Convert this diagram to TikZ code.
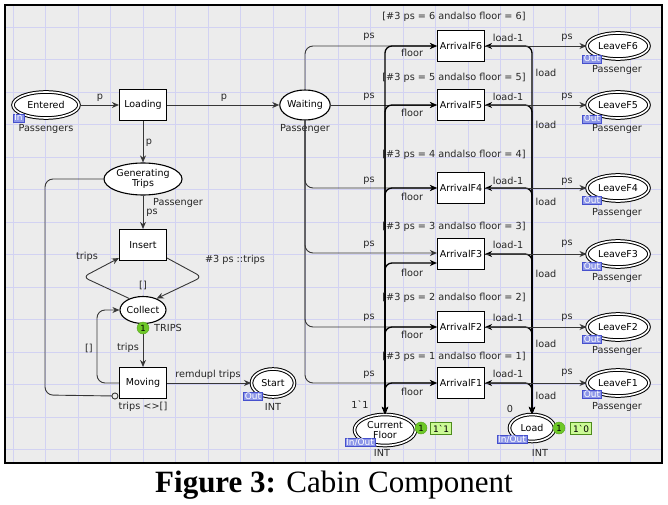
\documentclass[tikz,border=0pt]{standalone}
\usepackage{fontspec}
\newfontfamily\cpn{DejaVu Sans}
\newfontfamily\capfont{Liberation Serif}
\usetikzlibrary{arrows.meta,shapes.geometric,calc}
\definecolor{bgc}{RGB}{236,236,236}
\definecolor{gridc}{RGB}{210,210,242}
\definecolor{tagfill}{RGB}{140,150,232}
\definecolor{tagdraw}{RGB}{70,80,205}
\definecolor{tokc}{RGB}{110,200,40}
\definecolor{tokbox}{RGB}{204,250,150}
\definecolor{arcc}{RGB}{55,55,55}
\begin{document}
\begin{tikzpicture}[x=1pt,y=-1pt,
 lab/.style={font=\cpn\fontsize{9.7}{11}\selectfont, inner sep=0pt, text=black!85},
 trans/.style={draw, fill=white, line width=1.1pt, minimum width=47pt, minimum height=31pt, inner sep=0pt, font=\cpn\fontsize{9.5}{11}\selectfont},
 place/.style={draw, ellipse, fill=white, line width=1.1pt, inner sep=0pt, align=center, font=\cpn\fontsize{9.5}{10.5}\selectfont},
 port/.style={place, double, double distance=1.6pt, line width=1pt},
 tag/.style={draw=tagdraw, fill=tagfill, text=white, font=\cpn\fontsize{9}{9}\selectfont, inner xsep=1.2pt, inner ysep=0.3pt, text height=6.8pt, text depth=0.8pt, line width=0.6pt},
 tok/.style={circle, fill=tokc, draw=tokc!80!black, line width=0.4pt, inner sep=0pt, minimum size=12pt, font=\cpn\fontsize{8.5}{8.5}\selectfont},
 tokb/.style={draw=tokc!70!black, fill=tokbox, inner xsep=2.5pt, inner ysep=1pt, minimum height=12pt, font=\cpn\fontsize{9}{9}\selectfont},
 arc/.style={draw=arcc, line width=0.9pt, -{Stealth[length=7pt,width=6pt,inset=2.2pt]}},
 biarc/.style={draw=black, line width=1.3pt, {Stealth[length=7pt,width=6pt,inset=2.2pt]}-{Stealth[length=7pt,width=6pt,inset=2.2pt]}, rounded corners=7pt},
]
\useasboundingbox (0,0) rectangle (668,505);
\fill[white] (0,0) rectangle (668,505);
\fill[bgc] (5,5) rectangle (662,463);
\foreach \x in {13,45.5,...,660} \draw[gridc, line width=0.6pt] (\x,6) -- (\x,462);
\foreach \y in {27,59.5,...,460} \draw[gridc, line width=0.6pt] (6,\y) -- (661,\y);
\draw[line width=2.5pt] (5,5) rectangle (662,463);

% places and transitions
\node[port, minimum width=66pt, minimum height=26pt] (entered) at (46,105) {Entered};
\node[trans] (loading) at (143,105) {Loading};
\node[place, minimum width=46pt, minimum height=30pt] (waiting) at (305,105) {Waiting};
\node[place, minimum width=78pt, minimum height=32pt] (gen) at (143,179) {Generating\\Trips};
\node[trans] (insert) at (143,245) {Insert};
\node[place, minimum width=46pt, minimum height=27pt] (collect) at (143,310) {Collect};
\node[trans] (moving) at (143,383) {Moving};
\node[port, minimum width=43pt, minimum height=28pt] (start) at (273,383) {Start};
\node[port, minimum width=61pt, minimum height=31pt] (cf) at (385,430) {Current\\Floor};
\node[port, minimum width=45pt, minimum height=27pt] (load) at (532,428) {Load};
\foreach \k/\y in {6/46,5/105,4/188,3/254,2/327,1/383} {
  \node[trans] (arr\k) at (461,\y) {ArrivalF\k};
  \node[port, minimum width=62pt, minimum height=26pt] (leave\k) at (618,\y) {LeaveF\k};
}

% left arcs
\draw[arc] (entered) -- (loading);
\draw[arc] (loading) -- (waiting);
\draw[arc] (loading) -- (gen);
\draw[arc] (gen) -- (insert);
\draw[arc, rounded corners=6pt] ($(insert.south east)+(0,-3)$) -- (202,277) -- (collect.40);
\draw[arc, rounded corners=6pt] (collect.140) -- (83,277) -- ($(insert.south west)+(0,-3)$);
\draw[arc] (collect) -- (moving);
\draw[arc, rounded corners=8pt] (moving.west) -- (97,383) -- (97,310) -- (collect.west);
\draw[draw=arcc, line width=0.9pt, -{Circle[open,length=7pt,width=7pt]}, rounded corners=8pt] (gen.west) -- (45,179) -- (45,395) -- ($(moving.south west)+(-0.5,-3)$);
\draw[arc] (moving) -- (start);

% waiting to arrivals
\draw[arc, rounded corners=8pt] (waiting.north) |- (arr6.west);
\draw[arc] (waiting.east) -- (arr5.west);
\foreach \k in {4,2,1} \draw[arc, rounded corners=8pt] (waiting.south) |- (arr\k.west);
\draw[arc, rounded corners=8pt] (waiting.south) |- ($(arr3.west)+(0,-1)$);

% floor and load arcs
\foreach \k in {6,5,4,2,1} \draw[biarc] (cf.north) |- (arr\k.west);
\draw[biarc] (cf.north) |- ($(arr3.west)+(0,9)$);
\foreach \k in {6,5,4,3,2,1} {
  \draw[biarc] (load.north) |- (arr\k.east);
  \draw[arc] (arr\k) -- (leave\k);
}

% labels left
\node[lab] (lp1) at (100,98) {p};
\node[lab] (lpass1) at (46,129) {Passengers};
\node[tag] (tin) at (18.5,118) {In};
\node[lab] (lp2) at (224,98) {p};
\node[lab] (lpass2) at (305,129) {Passenger};
\node[lab] (lp3) at (149,143) {p};
\node[lab, anchor=west] (lpass3) at (153,203) {Passenger};
\node[lab] (lps0) at (152,213) {ps};
\node[lab] (ltrips1) at (87,257) {trips};
\node[lab] (lcons) at (235,260) {\#3 ps ::trips};
\node[lab] (lnil1) at (143,285) {[]};
\node[tok] (tok1) at (143,328) {1};
\node[lab] (ltrips) at (168,328) {TRIPS};
\node[lab] (ltrips2) at (128,348) {trips};
\node[lab] (lnil2) at (89,348) {[]};
\node[lab] (lguard) at (143,407) {trips <>[]};
\node[lab] (lrem) at (208,375) {remdupl trips};
\node[tag] (tstart) at (253,396) {Out};
\node[lab] (lint1) at (273,407) {INT};

% labels right
\foreach \k/\gy/\py/\fy/\ly/\ld/\qy/\my/\ty/\ay in {
  6/17/37/53/38/73/38/70/59/46,
  5/78/97/113/97/125/97/129/119/105,
  4/155/181/197/181/202/182/213/200/188,
  3/227/245/273/245/274/244/278/266/254,
  2/298/318/335/318/344/318/351/339/327,
  1/357/375/392/374/396/373/407/394/383} {
  \node[lab] (g\k) at (454,\gy) {[\#3 ps = \k\ andalso floor = \k]};
  \node[lab] (ps\k) at (369,\py) {ps};
  \node[lab] (fl\k) at (412,\fy) {floor};
  \node[lab] (lm\k) at (508,\ly) {load-1};
  \node[lab] (ld\k) at (546,\ld) {load};
  \node[lab] (pq\k) at (567,\qy) {ps};
  \node[lab] (pa\k) at (617,\my) {Passenger};
  \node[tag] (to\k) at (592,\ty) {Out};
}
\node[tag] (tcf) at (360,442) {In/Out};
\node[lab] (lint2) at (382,453) {INT};
\node[lab] (lcf0) at (360,405) {1\textasciigrave 1};
\node[tok] (tok2) at (421,428) {1};
\node[tokb] (tb2) at (441,428.5) {1\textasciigrave 1};
\node[tag] (tload) at (512,439) {In/Out};
\node[lab] (lint3) at (540,453) {INT};
\node[lab] (lld0) at (510,409) {0};
\node[tok] (tok3) at (559,428) {1};
\node[tokb] (tb3) at (581,428.5) {1\textasciigrave 0};

% caption
\node[font=\capfont\fontsize{31}{33}\selectfont, anchor=base, inner sep=0pt] (cap) at (334,492) {\textbf{Figure 3:} Cabin Component};
\end{tikzpicture}
\end{document}
